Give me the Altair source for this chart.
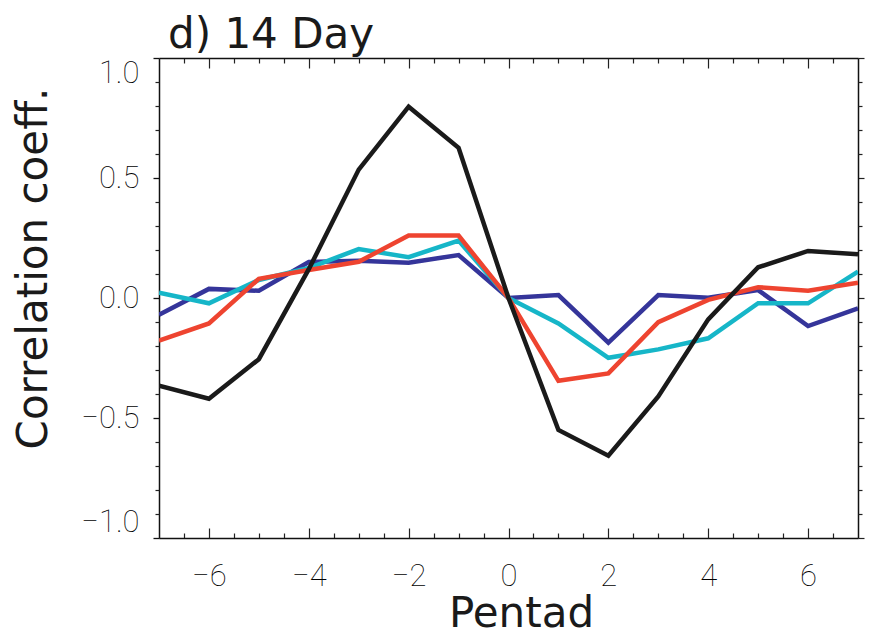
import altair as alt
import pandas as pd

# ---- data ----
pentad = [-7, -6, -5, -4, -3, -2, -1, 0, 1, 2, 3, 4, 5, 6, 7]
navy_vals = [-0.07, 0.038, 0.03, 0.15, 0.155, 0.147, 0.179, 0.0, 0.012, -0.186, 0.012, 0.001, 0.033, -0.117, -0.043]
cyan_vals = [0.022, -0.022, 0.075, 0.125, 0.204, 0.17, 0.239, 0.0, -0.106, -0.249, -0.214, -0.168, -0.022, -0.022, 0.11]
red_vals = [-0.178, -0.106, 0.08, 0.117, 0.151, 0.26, 0.26, 0.0, -0.345, -0.314, -0.101, -0.008, 0.045, 0.03, 0.064]
black_vals = [-0.365, -0.42, -0.255, 0.12, 0.535, 0.797, 0.626, 0.0, -0.55, -0.657, -0.41, -0.089, 0.128, 0.196, 0.182]

series_names = ["navy", "cyan", "red", "black"]
series_values = [navy_vals, cyan_vals, red_vals, black_vals]
series_colors = ["#35359a", "#16b6c8", "#ee4430", "#1a1a1a"]

x_major = [-6, -4, -2, 0, 2, 4, 6]
x_minor = [v / 2 for v in range(-13, 14) if v % 4 != 0]
y_major = [-1.0, -0.5, 0.0, 0.5, 1.0]
y_minor = [round(i / 10, 1) for i in range(-10, 11) if i % 5 != 0]

frames = [pd.DataFrame({"pentad": pentad, "value": v, "series": n})
          for n, v in zip(series_names, series_values)]
df = pd.concat(frames, ignore_index=True)

W, H = 699, 480
xs = alt.Scale(domain=[-7, 7], nice=False, zero=False)
ys = alt.Scale(domain=[-1, 1], nice=False, zero=False)

LABEL_FONT = "Roboto"
TITLE_FONT = "DejaVu Sans"

base = alt.Chart(df).mark_point(opacity=0, size=1)


def xlayer(axis):
    return base.encode(x=alt.X("pentad:Q", scale=xs, axis=axis),
                       y=alt.Y("value:Q", scale=ys, axis=None))


def ylayer(axis):
    return base.encode(x=alt.X("pentad:Q", scale=xs, axis=None),
                       y=alt.Y("value:Q", scale=ys, axis=axis))


tick_common = dict(grid=False, tickColor="#222222", tickWidth=1.2, labels=False, title=None)

axis_layers = [
    # bottom labels + title
    xlayer(alt.Axis(orient="bottom", values=x_major, ticks=False, tickSize=0, domain=False,
                    grid=False, format="d", labelFont=LABEL_FONT, labelFontWeight=100,
                    labelFontSize=31, labelColor="#000000", labelBaseline="alphabetic",
                    labelPadding=47, labelFlush=False,
                    title="Pentad", titleFont=TITLE_FONT, titleFontSize=42,
                    titleFontWeight="normal", titleColor="#1a1a1a", titleX=362, titleY=88,
                    titleAlign="center", titleBaseline="alphabetic")),
    # bottom inward ticks (top-oriented axis moved down)
    xlayer(alt.Axis(orient="top", offset=-H, values=x_minor, tickSize=5, domain=True,
                    domainColor="#111111", domainWidth=1.5, **tick_common)),
    xlayer(alt.Axis(orient="top", offset=-H, values=x_major, tickSize=10, domain=False,
                    **tick_common)),
    # top inward ticks (bottom-oriented axis moved up)
    xlayer(alt.Axis(orient="bottom", offset=-H, values=x_minor, tickSize=5, domain=True,
                    domainColor="#111111", domainWidth=1.5, **tick_common)),
    xlayer(alt.Axis(orient="bottom", offset=-H, values=x_major, tickSize=10, domain=False,
                    **tick_common)),
    # left axis
    ylayer(alt.Axis(orient="left", values=y_major, tickSize=6, tickColor="#111111",
                    tickWidth=1.3, domain=True, domainColor="#111111", domainWidth=1.5,
                    grid=False, format=".1f", labelFont=LABEL_FONT, labelFontWeight=100,
                    labelFontSize=31, labelColor="#000000", labelPadding=14,
                    labelFlush=True, labelFlushOffset=0,
                    title="Correlation coeff.", titleFont=TITLE_FONT, titleFontSize=42,
                    titleFontWeight="normal", titleColor="#1a1a1a", titleX=-113,
                    titleY=210, titleAngle=270, titleAlign="center",
                    titleBaseline="alphabetic")),
    ylayer(alt.Axis(orient="left", values=y_minor, tickSize=4, domain=False, **tick_common)),
    # right axis
    ylayer(alt.Axis(orient="right", values=y_major, tickSize=6, domain=True,
                    domainColor="#111111", domainWidth=1.5, **tick_common)),
    ylayer(alt.Axis(orient="right", values=y_minor, tickSize=4, domain=False, **tick_common)),
]

series_layers = []
for name, color in zip(series_names, series_colors):
    series_layers.append(
        alt.Chart(df)
        .transform_filter(alt.datum.series == name)
        .mark_line(color=color, strokeWidth=4.5, clip=True)
        .encode(x=alt.X("pentad:Q", scale=xs, axis=None),
                y=alt.Y("value:Q", scale=ys, axis=None))
    )

chart = (
    alt.layer(*axis_layers, *series_layers)
    .resolve_axis(x="independent", y="independent")
    .properties(
        width=W,
        height=H,
        title=alt.TitleParams("d) 14 Day", anchor="start", frame="group", font=TITLE_FONT,
                              fontSize=42, fontWeight="normal", color="#1a1a1a",
                              baseline="alphabetic", offset=-33, dx=9),
        autosize=alt.AutoSizeParams(type="none"),
        padding={"left": 159, "top": 58, "right": 11, "bottom": 98},
    )
    .configure_view(stroke=None)
    .configure(background="white")
)

chart.save("out.html", embed_options={"renderer": "svg", "actions": False})
